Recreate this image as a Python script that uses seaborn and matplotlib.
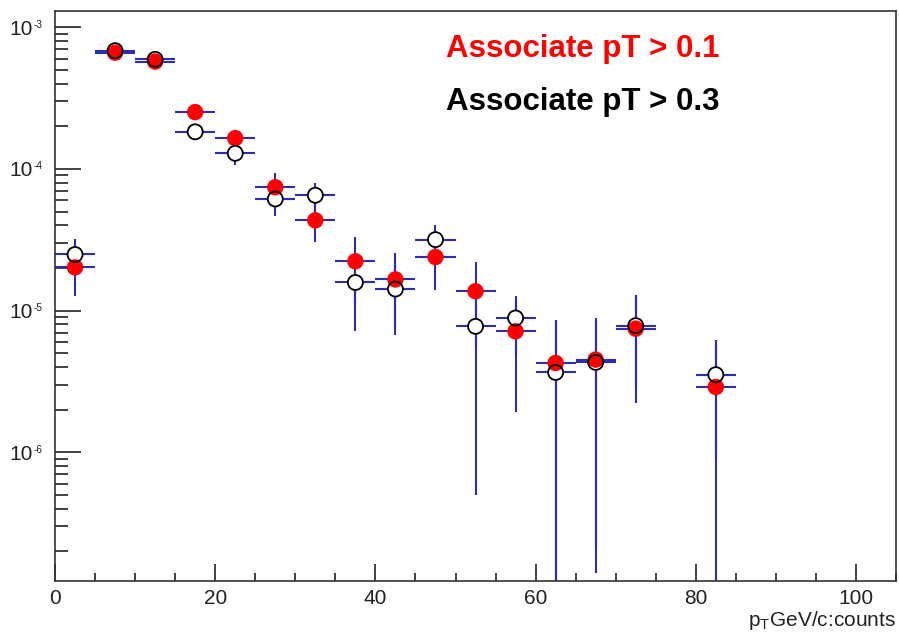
import numpy as np
import pandas as pd
import matplotlib
matplotlib.use("Agg")
import matplotlib.pyplot as plt
import seaborn as sns
from matplotlib.ticker import LogLocator, MultipleLocator, NullFormatter, FixedFormatter

# -----------------------------
# Data (bin centres in pT, yields per bin)
# -----------------------------
pt_bins = [2.5, 7.5, 12.5, 17.5, 22.5, 27.5, 32.5, 37.5, 42.5, 47.5,
           52.5, 57.5, 62.5, 67.5, 72.5, 82.5]
bin_half_width = 2.5

# Associate pT > 0.1 (red filled)
yield_01 = [2.02e-5, 6.62e-4, 5.73e-4, 2.52e-4, 1.65e-4, 7.43e-5, 4.34e-5, 2.23e-5,
            1.66e-5, 2.39e-5, 1.37e-5, 7.14e-6, 4.27e-6, 4.51e-6, 7.46e-6, 2.89e-6]
err_01 = [0.76e-5, 2.0e-5, 2.0e-5, 2.0e-5, 2.4e-5, 1.94e-5, 1.31e-5, 1.09e-5,
          0.90e-5, 1.00e-5, 0.82e-5, 5.2e-6, 4.3e-6, 4.37e-6, 5.23e-6, 3.0e-6]

# Associate pT > 0.3 (open black)
yield_03 = [2.49e-5, 6.84e-4, 5.94e-4, 1.83e-4, 1.29e-4, 6.14e-5, 6.52e-5, 1.58e-5,
            1.42e-5, 3.17e-5, 7.74e-6, 8.87e-6, 3.66e-6, 4.31e-6, 7.83e-6, 3.53e-6]
err_03 = [0.69e-5, 2.0e-5, 2.0e-5, 2.3e-5, 2.2e-5, 1.51e-5, 1.44e-5, 0.865e-5,
          0.75e-5, 0.87e-5, 7.24e-6, 3.9e-6, 4.87e-6, 4.1e-6, 4.97e-6, 2.64e-6]

# y axis decades that carry a label
y_decades = [1e-6, 1e-5, 1e-4, 1e-3]
y_exponents = ["-6", "-5", "-4", "-3"]

df01 = pd.DataFrame({"pt": pt_bins, "y": yield_01, "err": err_01})
df03 = pd.DataFrame({"pt": pt_bins, "y": yield_03, "err": err_03})

# -----------------------------
# Style
# -----------------------------
sns.set_theme(style="white")
plt.rcParams["font.family"] = ["Liberation Sans", "DejaVu Sans"]
plt.rcParams["mathtext.default"] = "regular"
plt.rcParams["axes.unicode_minus"] = False

fig = plt.figure(figsize=(8.99, 6.37), dpi=100)
ax = fig.add_axes([0.0612, 0.0884, 0.9355, 0.8948])

blue = "#2c2cb4"
txt = "#222222"

# error bars first (ROOT style, no caps)
for df in (df01, df03):
    lo = np.minimum(df["err"].values, df["y"].values * 0.99999)
    ax.errorbar(df["pt"], df["y"], xerr=bin_half_width, yerr=[lo, df["err"].values],
                fmt="none", ecolor=blue, elinewidth=1.5, capsize=0, zorder=2)

# white discs so the open markers look hollow like ROOT (lines stop at the marker)
sns.scatterplot(data=df03, x="pt", y="y", ax=ax, s=117, color="white",
                edgecolor="none", zorder=2.5)
sns.scatterplot(data=df01, x="pt", y="y", ax=ax, s=140, color="red",
                edgecolor="none", zorder=3)
ax.scatter(df03["pt"], df03["y"], s=117, facecolors="none", edgecolors="black",
           linewidths=1.3, zorder=4)

# -----------------------------
# Axes
# -----------------------------
ax.set_yscale("log")
ax.set_xlim(0, 105)
ax.set_ylim(1.24e-7, 1.31e-3)

ax.xaxis.set_major_locator(MultipleLocator(20))
ax.xaxis.set_minor_locator(MultipleLocator(5))
ax.set_yticks(y_decades)
ax.yaxis.set_major_formatter(FixedFormatter(["10"] * len(y_decades)))
ax.yaxis.set_minor_locator(LogLocator(base=10, subs=np.arange(2, 10), numticks=12))
ax.yaxis.set_minor_formatter(NullFormatter())

ax.tick_params(which="both", direction="in", bottom=True, left=True,
               top=False, right=False, color=txt, labelcolor=txt, labelsize=15)
ax.tick_params(axis="y", which="major", length=18.7, width=1.2, pad=16.3)
ax.tick_params(axis="y", which="minor", length=9.4, width=1.2)
ax.tick_params(axis="x", which="major", length=12.2, width=1.2, pad=6)
ax.tick_params(axis="x", which="minor", length=6.1, width=1.2)

# small ROOT-like exponents next to each "10"
for v, ex in zip(y_decades, y_exponents):
    ax.annotate(ex, xy=(0, v), xycoords=("axes fraction", "data"),
                xytext=(-15.8, -0.3), textcoords="offset points",
                ha="left", va="baseline", fontsize=7.2, color=txt)

for sp in ax.spines.values():
    sp.set_color("#333333")
    sp.set_linewidth(1.2)

ax.set_ylabel("")
ax.set_xlabel(r"$p_{T}$GeV/c:counts", loc="right", fontsize=15, labelpad=1,
              color=txt)

ax.text(0.465, 0.919, "Associate pT > 0.1", transform=ax.transAxes, color="red",
        fontsize=22.5, fontweight="bold", va="baseline")
ax.text(0.465, 0.826, "Associate pT > 0.3", transform=ax.transAxes, color="black",
        fontsize=22.5, fontweight="bold", va="baseline")

fig.savefig("out.png", dpi=100)
